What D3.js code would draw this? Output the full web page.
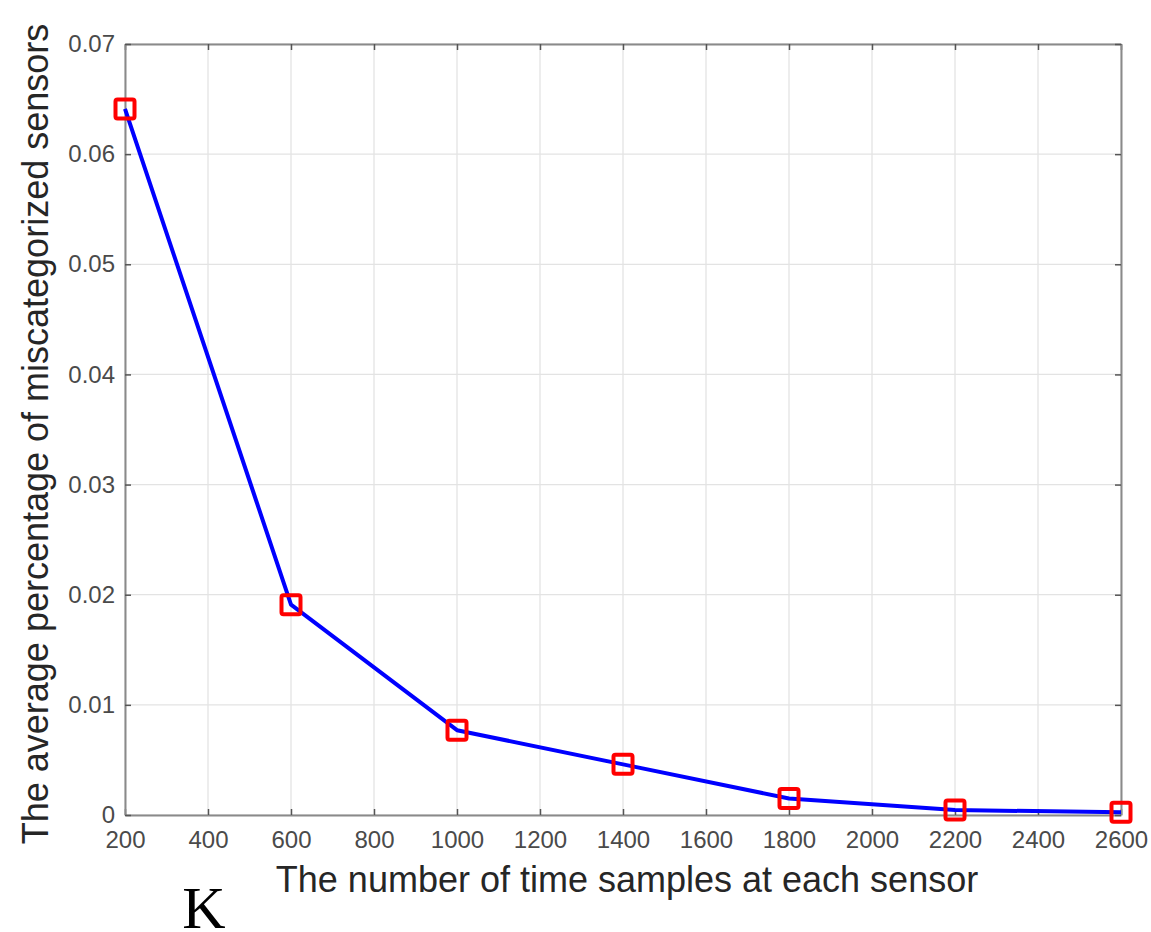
<!DOCTYPE html>
<html>
<head>
<meta charset="utf-8">
<script src="https://cdn.jsdelivr.net/npm/d3@7"></script>
<style>
  body { margin: 0; background: #fff; }
</style>
</head>
<body>
<div id="chart"></div>
<script>

// data
const samples = [200, 600, 1000, 1400, 1800, 2200, 2600];
const missRate = [0.0641, 0.0191, 0.0077, 0.0046, 0.0015, 0.00045, 0.00025];
const xTicks = [200, 400, 600, 800, 1000, 1200, 1400, 1600, 1800, 2000, 2200, 2400, 2600];
const yTicks = [0, 0.01, 0.02, 0.03, 0.04, 0.05, 0.06, 0.07];

const W = 1151, H = 932;
const box = { left: 125, top: 44, right: 1121, bottom: 815 };
const fontFamily = "Helvetica, Arial, 'Liberation Sans', sans-serif";

const svg = d3.select("#chart").append("svg")
  .attr("width", W)
  .attr("height", H);

const x = d3.scaleLinear().domain([200, 2600]).range([box.left, box.right]);
const y = d3.scaleLinear().domain([0, 0.07]).range([box.bottom, box.top]);

// grid
svg.append("g").selectAll("line")
  .data(xTicks)
  .enter().append("line")
  .attr("x1", d => x(d)).attr("x2", d => x(d))
  .attr("y1", box.top).attr("y2", box.bottom)
  .attr("stroke", "#e3e3e3").attr("stroke-width", 1.3);

svg.append("g").selectAll("line")
  .data(yTicks)
  .enter().append("line")
  .attr("y1", d => y(d)).attr("y2", d => y(d))
  .attr("x1", box.left).attr("x2", box.right)
  .attr("stroke", "#e3e3e3").attr("stroke-width", 1.3);

// axes (ticks point inward, like matlab)
const axisColor = "#8a8a8a";
const tickLen = 6;

function styleAxis(g) {
  g.attr("font-size", null).attr("font-family", null);
  g.select(".domain").attr("stroke", axisColor).attr("stroke-width", 2);
  g.selectAll(".tick line").attr("stroke", "#555").attr("stroke-width", 1.5);
  g.selectAll(".tick text")
    .attr("fill", "#4a4a4a")
    .style("font-family", fontFamily)
    .style("font-size", "24px");
}

svg.append("g")
  .attr("transform", `translate(0,${box.bottom})`)
  .call(d3.axisBottom(x).tickValues(xTicks).tickSize(-tickLen).tickSizeOuter(0).tickPadding(16)
    .tickFormat(d3.format("d")))
  .call(styleAxis);

svg.append("g")
  .attr("transform", `translate(0,${box.top})`)
  .call(d3.axisTop(x).tickValues(xTicks).tickSize(-tickLen).tickSizeOuter(0).tickFormat(""))
  .call(styleAxis);

svg.append("g")
  .attr("transform", `translate(${box.left},0)`)
  .call(d3.axisLeft(y).tickValues(yTicks).tickSize(-tickLen).tickSizeOuter(0).tickPadding(10)
    .tickFormat(d => d === 0 ? "0" : d3.format(".2f")(d)))
  .call(styleAxis);

svg.append("g")
  .attr("transform", `translate(${box.right},0)`)
  .call(d3.axisRight(y).tickValues(yTicks).tickSize(-tickLen).tickSizeOuter(0).tickFormat(""))
  .call(styleAxis);

// data line
const pts = samples.map((s, i) => ({ s: s, v: missRate[i] }));

svg.append("path")
  .datum(pts)
  .attr("fill", "none")
  .attr("stroke", "#0000ff")
  .attr("stroke-width", 4)
  .attr("stroke-linejoin", "round")
  .attr("d", d3.line().x(d => x(d.s)).y(d => y(d.v)));

const mk = 19;
svg.append("g").selectAll("rect")
  .data(pts)
  .enter().append("rect")
  .attr("x", d => x(d.s) - mk / 2)
  .attr("y", d => y(d.v) - mk / 2)
  .attr("width", mk).attr("height", mk)
  .attr("rx", 2)
  .attr("fill", "none")
  .attr("stroke", "#ff0000")
  .attr("stroke-width", 4);

// labels
svg.append("text")
  .attr("x", 627)
  .attr("y", 892)
  .attr("text-anchor", "middle")
  .attr("font-family", fontFamily)
  .attr("font-size", 36)
  .attr("fill", "#262626")
  .text("The number of time samples at each sensor");

svg.append("text")
  .attr("transform", "translate(48,434) rotate(-90)")
  .attr("text-anchor", "middle")
  .attr("font-family", fontFamily)
  .attr("font-size", 36)
  .attr("fill", "#262626")
  .text("The average percentage of miscategorized sensors");

svg.append("text")
  .attr("x", 204)
  .attr("y", 928)
  .attr("text-anchor", "middle")
  .attr("font-family", "'Liberation Serif', 'Times New Roman', serif")
  .attr("font-size", 60)
  .attr("fill", "#000")
  .text("K");

</script>
</body>
</html>
